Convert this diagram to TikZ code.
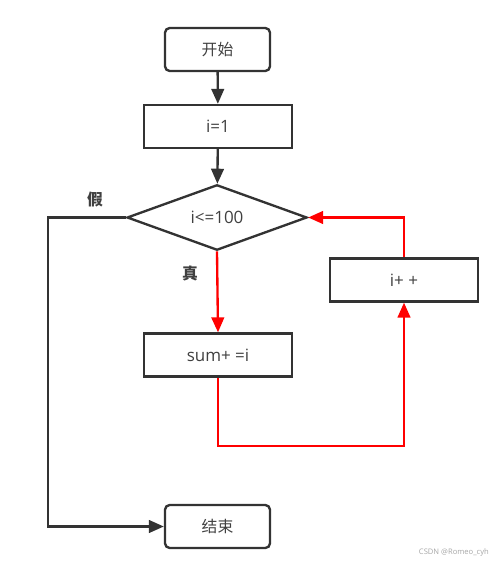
\documentclass[tikz,border=0pt]{standalone}
\usepackage{fontspec}
\usepackage{xcolor}
\usepackage{tikz}
\usetikzlibrary{arrows.meta,positioning,shapes.geometric}
\setmainfont{Open Sans}
\newfontfamily\cjk{Noto Sans CJK SC}
\definecolor{boxgray}{HTML}{333333}
\definecolor{textgray}{HTML}{404040}
\definecolor{loopred}{HTML}{FF0000}

\begin{document}
\begin{tikzpicture}[x=0.03cm,y=-0.03cm,
	every node/.style={text=textgray,font=\fontsize{14.5}{17}\selectfont},
	terminal/.style={draw=boxgray,line width=2pt,rounded corners=4pt,minimum width=3.15cm,minimum height=1.29cm,inner sep=0pt,font=\cjk\fontsize{13.5}{16}\selectfont},
	process/.style={draw=boxgray,line width=2pt,minimum width=4.44cm,minimum height=1.29cm,inner sep=0pt},
	decision/.style={draw=boxgray,line width=2pt,diamond,minimum width=5.4cm,minimum height=1.71cm,inner sep=0pt},
	flow/.style={draw=boxgray,line width=2pt,-{Triangle[length=0.45cm,width=0.38cm]}},
	loop/.style={draw=loopred,line width=2pt,-{Triangle[length=0.45cm,width=0.38cm]}},
	tag/.style={font=\cjk\bfseries\fontsize{13.5}{16}\selectfont}]
	\useasboundingbox (0,0) rectangle (500,563);
	\node[terminal] (start) at (217.5,49.5) {开始};
	\node[process] (init) at (218,126.5) {i=1};
	\node[decision] (cond) at (217,217.5) {i<=100};
	\node[process] (sum) at (218,355) {sum+ =i};
	\node[process] (inc) at (404,280) {i+ +};
	\node[terminal] (finish) at (217.5,526.5) {结束};
	\node[tag] (false) at (95,200) {假};
	\node[tag] (true) at (190,273) {真};
	\coordinate (leftrail) at (48,217.5);
	\coordinate (loopbottom) at (218,446);
	\draw[flow] (start) -- (init);
	\draw[flow] (init) -- (cond);
	\draw[flow] (cond.west) -- (leftrail) |- (finish.west);
	\draw[loop] (cond.south) -- (sum.north);
	\draw[loop] (sum.south) -- (loopbottom) -| (inc.south);
	\draw[loop] (inc.north) |- (cond.east);
	\node[text=gray!70,font=\fontsize{6.5}{8}\selectfont,anchor=east] (mark) at (493,553) {CSDN @Romeo\_cyh};
\end{tikzpicture}
\end{document}
